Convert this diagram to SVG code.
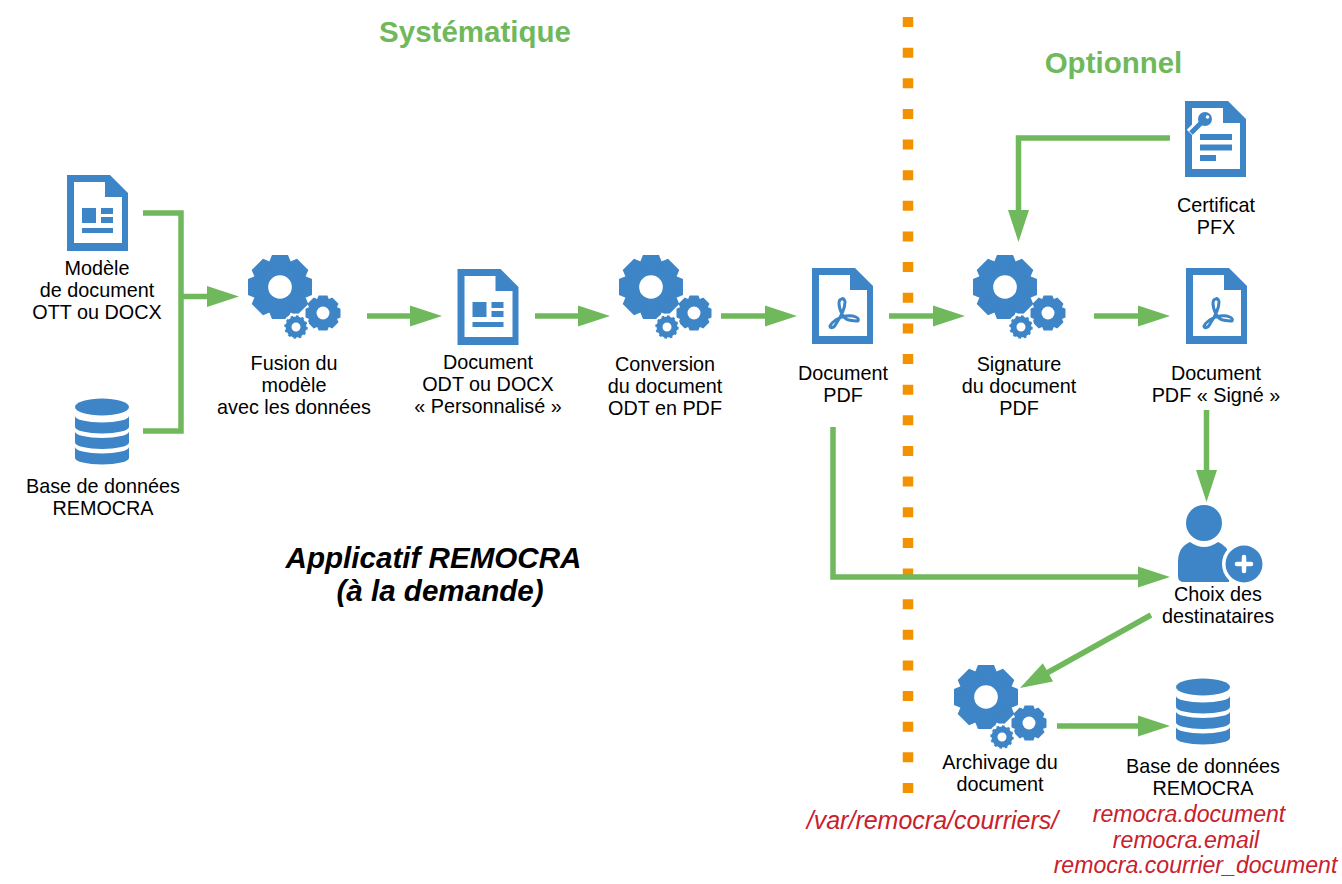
<svg xmlns="http://www.w3.org/2000/svg" xmlns:xlink="http://www.w3.org/1999/xlink" width="1342" height="884" viewBox="0 0 1342 884">
<style>
text{font-family:"Liberation Sans",Arial,sans-serif;font-size:19.8px;fill:#000;text-anchor:middle}
.title{font-size:29.5px;font-weight:bold;fill:#70b85c}
.app{font-size:29.6px;font-weight:bold;font-style:italic}
.red{font-size:23.1px;font-style:italic;fill:#c9202c}
.path{font-size:25px}
.b{fill:#3d85c6}
.w{fill:#fff}
.c{fill:none;stroke:#70b85c;stroke-width:5.5}
</style>
<defs>
<polygon id="tooth" points="-25,-100 25,-100 38,-68 -38,-68"/>
<g id="gear8" class="b">
<circle r="79"/>
<use xlink:href="#tooth"/><use xlink:href="#tooth" transform="rotate(45)"/><use xlink:href="#tooth" transform="rotate(90)"/><use xlink:href="#tooth" transform="rotate(135)"/><use xlink:href="#tooth" transform="rotate(180)"/><use xlink:href="#tooth" transform="rotate(225)"/><use xlink:href="#tooth" transform="rotate(270)"/><use xlink:href="#tooth" transform="rotate(315)"/>
<circle r="37" class="w"/>
</g>
<g id="gears">
<use xlink:href="#gear8" transform="scale(.32)"/>
<use xlink:href="#gear8" transform="translate(43,26) scale(.175)"/>
<circle cx="16" cy="40" r="13.5" class="w"/>
<circle cx="16" cy="40" r="7.5" fill="none" stroke="#3d85c6" stroke-width="6"/>
<circle cx="16" cy="40" r="10.5" fill="none" stroke="#3d85c6" stroke-width="2.4" pathLength="24" stroke-dasharray="1 1"/>
</g>
<path id="sheet" class="b" d="M0 0H43L61 18V76H0Z"/>
<path id="inner" class="w" d="M7 7H38V22H55V68H7Z"/>
<g id="doc">
<use xlink:href="#sheet"/><use xlink:href="#inner"/>
<g class="b"><rect x="15" y="33" width="14" height="15"/><rect x="34" y="33" width="12" height="6"/><rect x="34" y="42" width="12" height="6"/><rect x="15" y="53" width="31" height="5"/></g>
</g>
<g id="pdf">
<use xlink:href="#sheet"/><use xlink:href="#inner"/>
<path fill="none" stroke="#3d85c6" stroke-width="3" stroke-linejoin="round" d="M30 31C26 31 26 38 30 46C34 54 40 52 46 53C48 50 42 47 34 48C26 49 20 54 18 58C18 61 22 60 24 56C28 50 33 40 33 34C33 32 31 30 30 31Z"/>
</g>
<g id="db" class="b">
<ellipse cx="0" cy="9" rx="27" ry="8.5"/>
<path id="band" d="M-27 18A27 6.5 0 0 0 27 18V29A27 6.5 0 0 1 -27 29Z"/>
<use xlink:href="#band" y="15.5"/><use xlink:href="#band" y="31"/>
</g>
<polygon id="ah" fill="#70b85c" points="-32,-10.5 0,0 -32,10.5"/>
</defs>

<path id="separator" d="M908 17V795" fill="none" stroke="#f39200" stroke-width="10.5" stroke-dasharray="10 20.64"/>

<g id="connectors">
<path class="c" d="M143 213H181V431H143M181 296.500H210"/><use xlink:href="#ah" transform="translate(239,296.500)"/>
<path class="c" d="M367 316H412"/><use xlink:href="#ah" transform="translate(442,316)"/>
<path class="c" d="M535 316H580"/><use xlink:href="#ah" transform="translate(610,316)"/>
<path class="c" d="M721 316H767"/><use xlink:href="#ah" transform="translate(797,316)"/>
<path class="c" d="M889 316H935"/><use xlink:href="#ah" transform="translate(965,316)"/>
<path class="c" d="M1094 316H1140"/><use xlink:href="#ah" transform="translate(1170,316)"/>
<path class="c" d="M1170 138H1018.500V212"/><use xlink:href="#ah" transform="translate(1018.500,242) rotate(90)"/>
<path class="c" d="M1206.500 410V472"/><use xlink:href="#ah" transform="translate(1206.500,502) rotate(90)"/>
<path class="c" d="M833 427V577H1140"/><use xlink:href="#ah" transform="translate(1170,577)"/>
<path class="c" d="M1151 615L1046 673.500"/><use xlink:href="#ah" transform="translate(1020,688) rotate(150.900)"/>
<path class="c" d="M1057 726H1140"/><use xlink:href="#ah" transform="translate(1170,726)"/>
</g>

<g id="titles">
<text class="title" x="475" y="42">Systématique</text>
<text class="title" x="1113.500" y="73">Optionnel</text>
<text class="app" x="433.500" y="568">Applicatif REMOCRA</text>
<text class="app" x="440" y="601">(à la demande)</text>
</g>

<g id="modele"><use xlink:href="#doc" x="67" y="175"/><text x="97" y="275">Modèle</text><text x="97" y="297">de document</text><text x="97" y="319">OTT ou DOCX</text></g>
<g id="base1"><use xlink:href="#db" x="102" y="398"/><text x="103" y="493">Base de données</text><text x="103" y="515">REMOCRA</text></g>
<g id="fusion"><use xlink:href="#gears" x="280" y="287"/><text x="294" y="370">Fusion du</text><text x="294" y="392">modèle</text><text x="294" y="414">avec les données</text></g>
<g id="docodt"><use xlink:href="#doc" x="457.500" y="269"/><text x="488" y="369">Document</text><text x="488" y="391">ODT ou DOCX</text><text x="488" y="413">« Personnalisé »</text></g>
<g id="conversion"><use xlink:href="#gears" x="651" y="287"/><text x="665" y="371">Conversion</text><text x="665" y="393">du document</text><text x="665" y="415">ODT en PDF</text></g>
<g id="docpdf"><use xlink:href="#pdf" x="812" y="268"/><text x="843" y="380">Document</text><text x="843" y="402">PDF</text></g>
<g id="signature"><use xlink:href="#gears" x="1005" y="287"/><text x="1019" y="371">Signature</text><text x="1019" y="393">du document</text><text x="1019" y="415">PDF</text></g>
<g id="docsigne"><use xlink:href="#pdf" x="1186" y="268"/><text x="1216" y="380">Document</text><text x="1216" y="402">PDF « Signé »</text></g>
<g id="certificat">
<use xlink:href="#sheet" x="1185" y="101"/><use xlink:href="#inner" x="1185" y="101"/>
<g class="b"><rect x="1200" y="134" width="32" height="6"/><rect x="1200" y="144.500" width="32" height="6"/><rect x="1200" y="155" width="16" height="6"/></g>
<path d="M1190 133L1200 123" stroke="#fff" stroke-width="9" fill="none"/><circle cx="1205" cy="119" r="10" class="w"/>
<path d="M1191 133L1201 123" stroke="#3d85c6" stroke-width="5" fill="none"/><circle cx="1205" cy="119" r="7" class="b"/><circle cx="1207.500" cy="117" r="1.800" class="w"/>
<text x="1216" y="212">Certificat</text><text x="1216" y="234">PFX</text>
</g>
<g id="choix">
<circle cx="1204" cy="523" r="18" class="b"/>
<path class="b" d="M1190 542Q1204 552 1218 542Q1228 546 1229 556V582H1184Q1178 582 1178 576V562Q1178 547 1190 542Z"/>
<circle cx="1244" cy="564" r="22" class="w"/><circle cx="1244" cy="564" r="18.500" class="b"/>
<path d="M1244 557V571M1237 564H1251" stroke="#fff" stroke-width="4.500" stroke-linecap="round"/>
<text x="1218" y="601">Choix des</text><text x="1218" y="623">destinataires</text>
</g>
<g id="archivage"><use xlink:href="#gears" x="986" y="697"/><text x="1000" y="769">Archivage du</text><text x="1000" y="791">document</text></g>
<g id="base2"><use xlink:href="#db" x="1203" y="678"/><text x="1203" y="773">Base de données</text><text x="1203" y="795">REMOCRA</text></g>
<g id="annotations">
<text class="red path" x="932.500" y="829">/var/remocra/courriers/</text>
<text class="red" x="1189" y="822">remocra.document</text>
<text class="red" x="1186" y="848">remocra.email</text>
<text class="red" x="1195.500" y="873">remocra.courrier_document</text>
</g>
</svg>
